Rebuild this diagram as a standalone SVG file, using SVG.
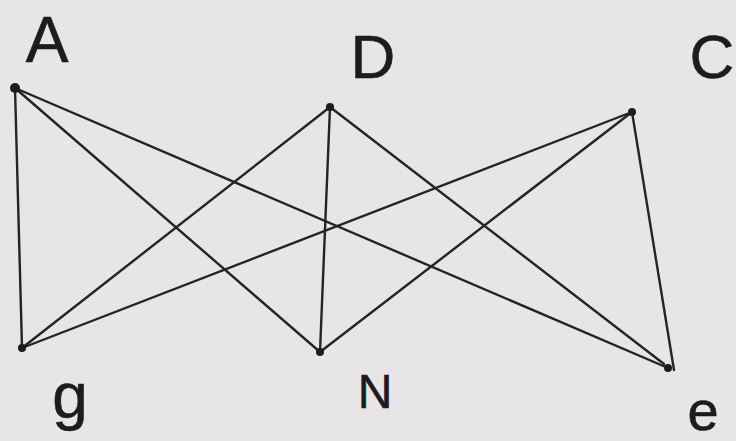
<svg xmlns="http://www.w3.org/2000/svg" width="736" height="441" viewBox="0 0 736 441">
<style>
.bg{fill:#e7e5e6}
.e{stroke:#262324;stroke-width:2.4;fill:none;stroke-linecap:round}
.n{fill:#1e1b1c}
.l{font-family:"Liberation Sans",Arial,sans-serif;fill:#1e1b1c;stroke:#1e1b1c;stroke-width:0.6;text-anchor:middle}
</style>
<rect class="bg" width="736" height="441"/>
<g id="edges">
<line class="e" x1="15" y1="88" x2="22" y2="348"/>
<line class="e" x1="15" y1="88" x2="320" y2="352"/>
<line class="e" x1="15" y1="88" x2="668" y2="368"/>
<line class="e" x1="330" y1="107" x2="22" y2="348"/>
<line class="e" x1="330" y1="107" x2="320" y2="352"/>
<line class="e" x1="330" y1="107" x2="664" y2="364"/>
<line class="e" x1="632" y1="112" x2="22" y2="348"/>
<line class="e" x1="632" y1="112" x2="320" y2="352"/>
<line class="e" x1="632" y1="112" x2="674" y2="370"/>
</g>
<g id="node-A"><circle class="n" cx="15" cy="88" r="5"/><text class="l" x="47" y="62" font-size="64">A</text></g>
<g id="node-D"><circle class="n" cx="330" cy="107" r="4"/><text class="l" x="373" y="78" font-size="62">D</text></g>
<g id="node-C"><circle class="n" cx="632" cy="112" r="4"/><text class="l" x="712" y="78" font-size="62">C</text></g>
<g id="node-g"><circle class="n" cx="22" cy="348" r="4"/><text class="l" x="70" y="418" font-size="64">g</text></g>
<g id="node-N"><circle class="n" cx="320" cy="352" r="4"/><text class="l" x="375" y="408" font-size="48">N</text></g>
<g id="node-e"><circle class="n" cx="668" cy="368" r="4"/><text class="l" x="703" y="430" font-size="56">e</text></g>
</svg>
